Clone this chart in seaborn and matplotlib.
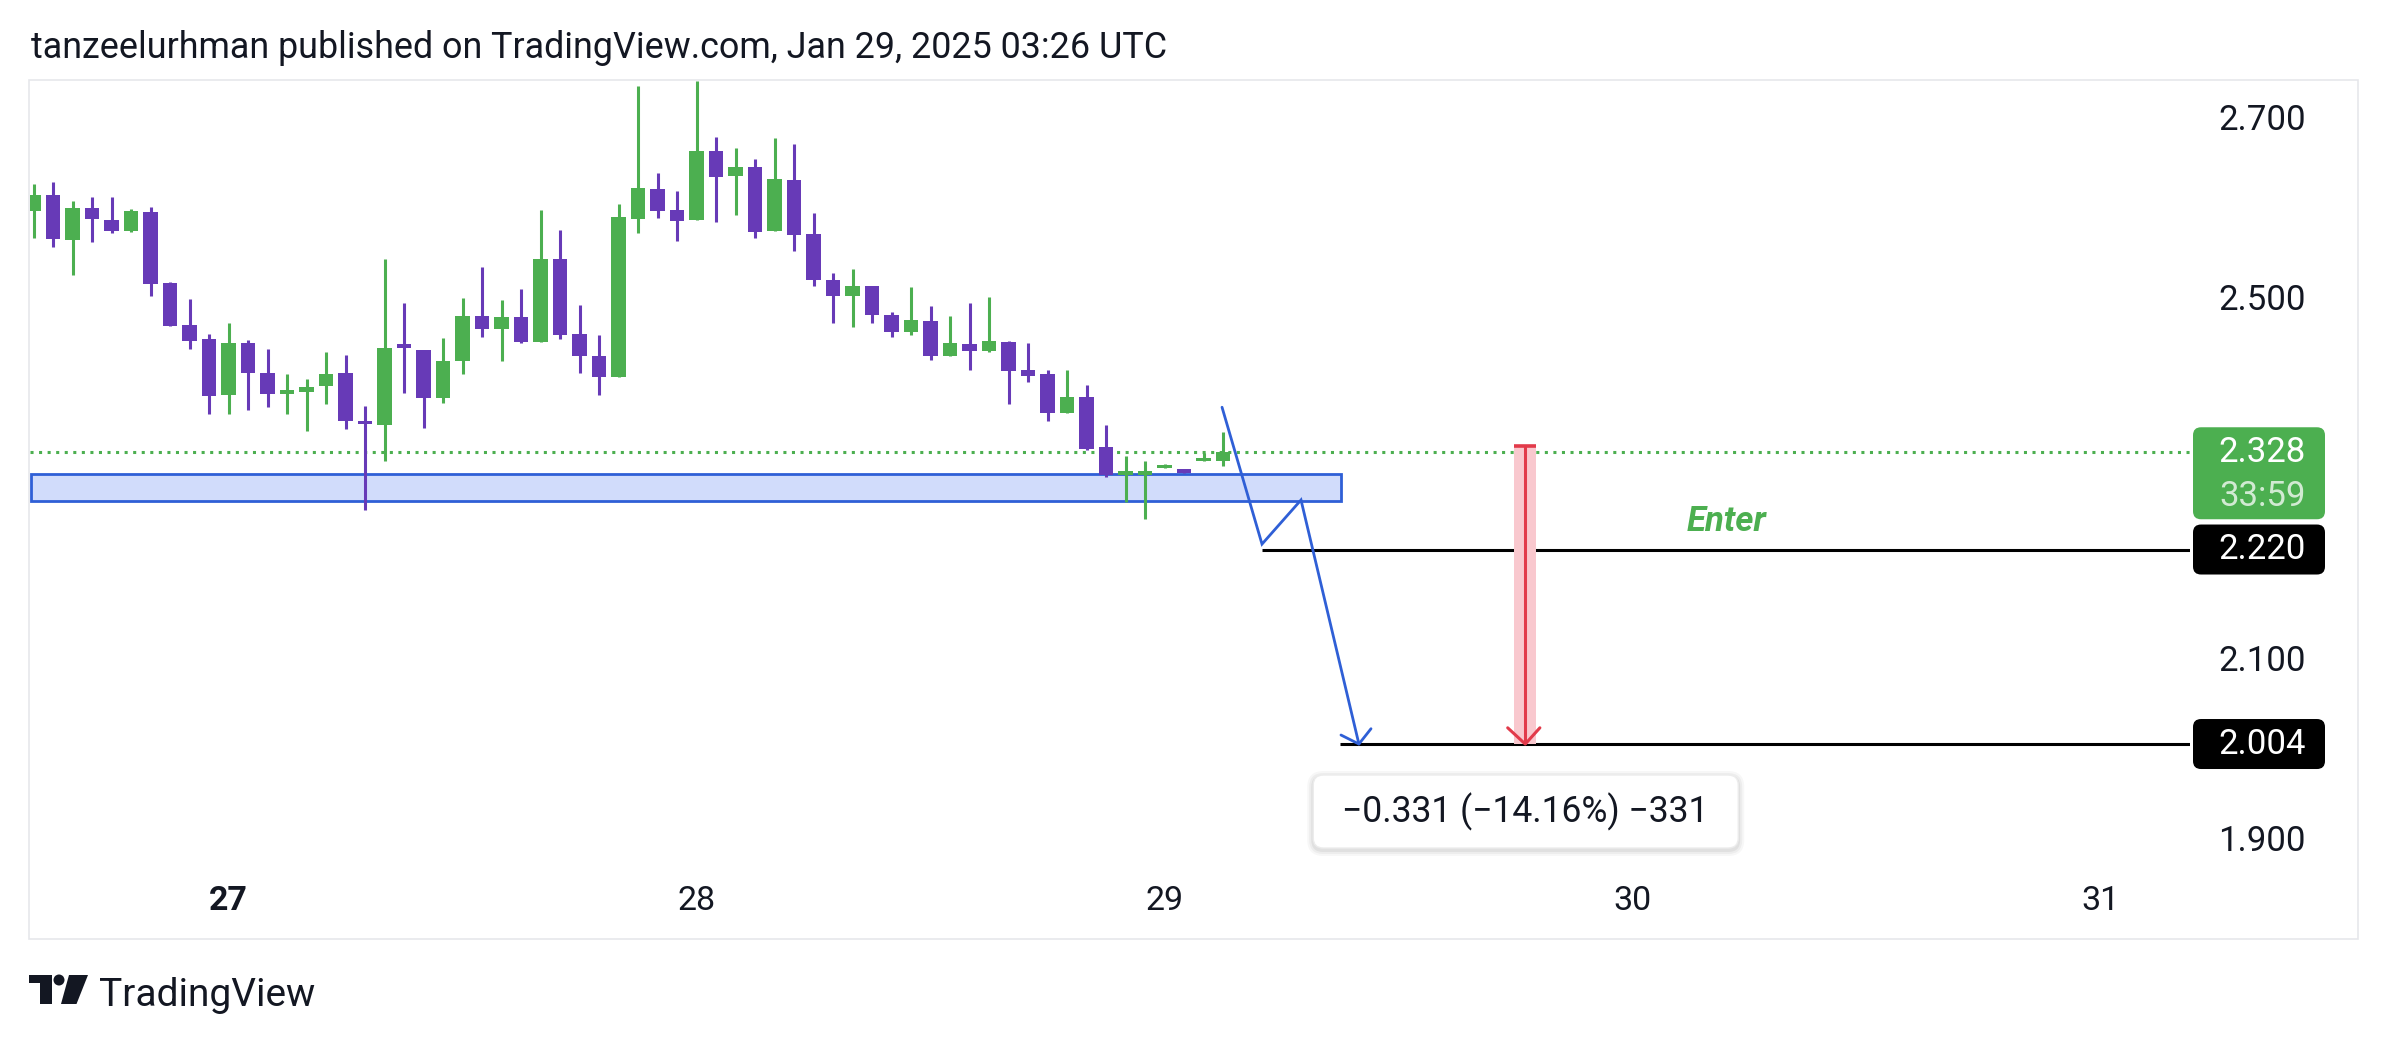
import matplotlib
matplotlib.use("Agg")
import numpy as np
import pandas as pd
import matplotlib.pyplot as plt
import matplotlib.patches as mpatches
import matplotlib.transforms as mtransforms
import seaborn as sns

# ── data: 1h candles, Jan 26 14:00 UTC -> Jan 29 03:00 UTC ─────────────
opens = [2.596, 2.614, 2.564, 2.599, 2.586, 2.574, 2.595, 2.516, 2.469, 2.454,
         2.392, 2.449, 2.416, 2.393, 2.395, 2.402, 2.416, 2.363, 2.358, 2.446,
         2.442, 2.388, 2.429, 2.479, 2.465, 2.478, 2.451, 2.543, 2.459, 2.435,
         2.412, 2.587, 2.620, 2.597, 2.586, 2.663, 2.635, 2.645, 2.574, 2.630,
         2.570, 2.519, 2.501, 2.513, 2.480, 2.462, 2.474, 2.435, 2.448, 2.441,
         2.450, 2.419, 2.415, 2.372, 2.389, 2.334, 2.303, 2.303, 2.310, 2.307,
         2.318, 2.318]
highs = [2.626, 2.628, 2.607, 2.612, 2.612, 2.598, 2.600, 2.517, 2.498, 2.459,
         2.471, 2.453, 2.443, 2.415, 2.409, 2.439, 2.436, 2.379, 2.543, 2.494,
         2.442, 2.455, 2.499, 2.534, 2.497, 2.509, 2.597, 2.575, 2.492, 2.458,
         2.604, 2.735, 2.638, 2.618, 2.740, 2.678, 2.666, 2.654, 2.677, 2.670,
         2.594, 2.527, 2.532, 2.513, 2.484, 2.511, 2.490, 2.479, 2.494, 2.500,
         2.452, 2.449, 2.419, 2.419, 2.403, 2.358, 2.324, 2.318, 2.315, 2.307,
         2.327, 2.350]
lows = [2.566, 2.556, 2.525, 2.562, 2.572, 2.573, 2.501, 2.468, 2.443, 2.371,
        2.370, 2.375, 2.378, 2.370, 2.352, 2.382, 2.354, 2.264, 2.318, 2.394,
        2.355, 2.383, 2.415, 2.456, 2.429, 2.449, 2.451, 2.454, 2.416, 2.392,
        2.412, 2.572, 2.588, 2.563, 2.586, 2.584, 2.591, 2.566, 2.574, 2.551,
        2.513, 2.471, 2.467, 2.472, 2.456, 2.458, 2.431, 2.435, 2.419, 2.439,
        2.382, 2.406, 2.363, 2.372, 2.330, 2.301, 2.273, 2.254, 2.310, 2.305,
        2.318, 2.313]
closes = [2.614, 2.565, 2.599, 2.587, 2.574, 2.596, 2.515, 2.468, 2.452, 2.391,
          2.449, 2.416, 2.393, 2.396, 2.401, 2.415, 2.363, 2.359, 2.444, 2.444,
          2.388, 2.429, 2.479, 2.465, 2.478, 2.451, 2.543, 2.458, 2.435, 2.412,
          2.589, 2.621, 2.596, 2.585, 2.663, 2.634, 2.645, 2.573, 2.632, 2.569,
          2.519, 2.501, 2.513, 2.480, 2.461, 2.475, 2.435, 2.449, 2.440, 2.452,
          2.418, 2.413, 2.372, 2.389, 2.332, 2.303, 2.305, 2.306, 2.313, 2.305,
          2.321, 2.328]

day_ticks = [10, 34, 58, 82, 106]          # candle index of each midnight
day_labels = ["27", "28", "29", "30", "31"]
price_ticks = [1.9, 2.1, 2.5, 2.7]

last_price = 2.328
countdown = "33:59"
entry_level = 2.220
target_level = 2.004
entry_start = 63.0
target_start = 67.0
zone_low, zone_high = 2.274, 2.304
zone_end = 67.05
path_x = [60.95, 63.0, 65.0, 67.97]
path_y = [2.378, 2.226, 2.275, 2.004]
path_head_x = [67.05, 67.97, 68.59]
path_head_y = [2.014, 2.004, 2.021]
measure_x = 76.5
measure_top = 2.335
measure_half = 0.56
measure_head_x = [75.6, 76.5, 77.25]
measure_head_y = [2.022, 2.004, 2.022]
measure_text = "\u22120.331 (\u221214.16%) \u2212331"
enter_x, enter_y = 86.8, 2.251

header = "tanzeelurhman published on TradingView.com, Jan 29, 2025 03:26 UTC"

GREEN = "#4caf50"
PURPLE = "#673ab7"
BLUE = "#2f5fd6"
RED = "#e23a4a"
TEXT = "#131722"

df = pd.DataFrame({"open": opens, "high": highs, "low": lows, "close": closes})
df["i"] = np.arange(len(df))
df["up"] = df["close"] >= df["open"]

# ── figure ─────────────────────────────────────────────────────────────
sns.set_style("white")
plt.rcParams["font.family"] = ["Roboto", "DejaVu Sans"]

W, H = 2388, 1044
fig = plt.figure(figsize=(W / 100, H / 100), dpi=100)
fig.patch.set_facecolor("white")
ax = fig.add_axes([30 / W, 1 - 870 / H, 2160 / W, 790 / H])
ax.set_xlim(-0.18, 110.59)
ax.set_ylim(1.8641, 2.7414)
for s in ax.spines.values():
    s.set_visible(False)
ax.set_facecolor("white")

px = mtransforms.IdentityTransform()

# outer frame
fig.add_artist(mpatches.Rectangle((29, H - 939), 2329, 859, transform=px,
                                  fill=False, ec="#e6e7eb", lw=1.2))

# zone
ax.add_patch(mpatches.Rectangle((-0.15, zone_low), zone_end + 0.15,
                                zone_high - zone_low, fc="#d1dcfb",
                                ec=BLUE, lw=2, zorder=1))

# candles
colors = np.where(df["up"], GREEN, PURPLE)
ax.vlines(df["i"], df["low"], df["high"], colors=colors, lw=2.2, zorder=3)
body_lo = np.minimum(df["open"], df["close"])
body_h = np.maximum((df["close"] - df["open"]).abs(), 0.004)
ax.bar(df["i"], body_h, bottom=body_lo, width=0.75, color=colors,
       linewidth=0, zorder=4)

# last price line
ax.axhline(last_price, color=GREEN, lw=2.2, ls=(0, (1, 1.8)), zorder=2)

# entry / target lines
xmax = ax.get_xlim()[1]
ax.hlines(entry_level, entry_start, xmax, color="black", lw=2.2, zorder=5)
ax.hlines(target_level, target_start, xmax, color="black", lw=2.2, zorder=5)

# projected path
ax.plot(path_x, path_y, color=BLUE, lw=2, zorder=6, solid_joinstyle="miter")
ax.plot(path_head_x, path_head_y, color=BLUE, lw=2, zorder=6)

# measure tool
ax.add_patch(mpatches.Rectangle((measure_x - measure_half, target_level),
                                2 * measure_half, measure_top - target_level,
                                fc="#f9c8ce", ec="none", zorder=5))
ax.vlines(measure_x, target_level, measure_top, color=RED, lw=2.2, zorder=6)
ax.hlines(measure_top, measure_x - measure_half, measure_x + measure_half,
          color=RED, lw=2.6, zorder=6)
ax.plot(measure_head_x, measure_head_y, color=RED, lw=2.2, zorder=6)

ax.text(enter_x, enter_y, "Enter", color=GREEN, fontsize=25,
        fontweight="bold", fontstyle="italic", ha="center", va="center",
        zorder=7)

# axes ticks
ax.set_xticks(day_ticks, labels=day_labels)
ax.tick_params(axis="x", length=0, pad=11, labelsize=24.5, labelcolor=TEXT)
ax.get_xticklabels()[0].set_fontweight("bold")
ax.yaxis.tick_right()
ax.set_yticks(price_ticks, labels=[f"{t:.3f}" for t in price_ticks])
ax.tick_params(axis="y", length=0, pad=83.5, labelsize=25, labelcolor=TEXT)
for lbl in ax.get_yticklabels():
    lbl.set_ha("right")
ax.grid(False)


def ypx(p):
    return ax.transData.transform((0, p))[1]


def xpx(i):
    return ax.transData.transform((i, 0))[0]


def tag(y0, h, face):
    fig.add_artist(mpatches.FancyBboxPatch(
        (2193, y0), 132, h, boxstyle="round,pad=0,rounding_size=8",
        transform=px, fc=face, ec="none"))


# price tags
py = ypx(last_price)
tag(py - 67, 92, GREEN)
fig.text(2306, py, f"{last_price:.3f}", transform=px, ha="right",
         va="center", fontsize=25, color="white")
fig.text(2306, py - 44, countdown, transform=px, ha="right", va="center",
         fontsize=25, color="white", alpha=0.75)
for lvl in (entry_level, target_level):
    yy = ypx(lvl)
    tag(yy - 25, 50, "black")
    fig.text(2306, yy, f"{lvl:.3f}", transform=px, ha="right", va="center",
             fontsize=25, color="white")

# measure label
cx = xpx(measure_x)
ty = ypx(target_level)
by0 = ty - 31 - 73
for k, a in enumerate([0.03, 0.04, 0.05]):
    e = 6 - 2 * k
    fig.add_artist(mpatches.FancyBboxPatch(
        (cx - 212 - e, by0 - e - 2), 425 + 2 * e, 73 + 2 * e,
        boxstyle=f"round,pad=0,rounding_size={10 + e}", transform=px,
        fc="black", ec="none", alpha=a))
fig.add_artist(mpatches.FancyBboxPatch(
    (cx - 212, by0), 425, 73, boxstyle="round,pad=0,rounding_size=10",
    transform=px, fc="white", ec="#ececec", lw=1))
fig.text(cx, by0 + 36.5, measure_text, transform=px, ha="center",
         va="center", fontsize=25.6, color=TEXT)

# header and footer
fig.text(31, H - 58, header, transform=px, ha="left", va="baseline",
         fontsize=25.8, color=TEXT)

logo = [
    mpatches.Rectangle((29, H - 983), 23, 8),
    mpatches.Rectangle((40, H - 1004), 12, 29),
    mpatches.Circle((59, H - 980), 5.5),
    mpatches.Polygon([(69, H - 975), (88, H - 975), (76.5, H - 1004),
                      (61, H - 1004)]),
]
for p in logo:
    p.set_transform(px)
    p.set_facecolor(TEXT)
    p.set_edgecolor("none")
    fig.add_artist(p)
fig.text(99, H - 1006, "TradingView", transform=px, ha="left",
         va="baseline", fontsize=28, color=TEXT)

fig.savefig("out.png", dpi=100, facecolor="white")
